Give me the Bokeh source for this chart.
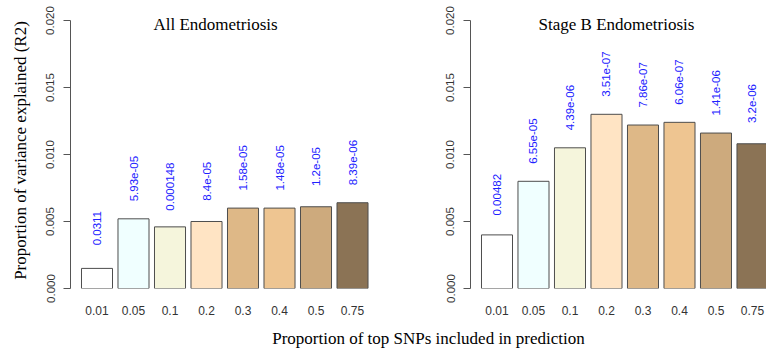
from math import pi
from bokeh.plotting import figure
from bokeh.layouts import column, row
from bokeh.models import Range1d, FixedTicker, Label, PrintfTickFormatter
from bokeh.core.properties import value
from bokeh.embed import file_html
from bokeh.resources import INLINE

categories = ["0.01", "0.05", "0.1", "0.2", "0.3", "0.4", "0.5", "0.75"]
all_r2 = [0.0015, 0.0052, 0.0046, 0.0050, 0.0060, 0.0060, 0.0061, 0.0064]
stageb_r2 = [0.0040, 0.0080, 0.0105, 0.0130, 0.0122, 0.0124, 0.0116, 0.0108]
all_p = ["0.0311", "5.93e-05", "0.000148", "8.4e-05", "1.58e-05", "1.48e-05", "1.2e-05", "8.39e-06"]
stageb_p = ["0.00482", "6.55e-05", "4.39e-06", "3.51e-07", "7.86e-07", "6.06e-07", "1.41e-06", "3.2e-06"]
bar_colors = ["#FFFFFF", "#F0FFFF", "#F5F5DC", "#FFE4C4", "#DEB887", "#EEC591", "#CDAA7D", "#8B7355"]
y_ticks = [0.0, 0.005, 0.010, 0.015, 0.020]

SERIF = "Liberation Serif"
SANS = "Liberation Sans"


def make_panel(title, r2, plabels, width, left_border, right_border, x_end, ylabel, title_x):
    xs = list(range(1, len(categories) + 1))
    p = figure(width=width, height=328, output_backend="svg", toolbar_location=None,
               x_range=Range1d(0.274, x_end), y_range=Range1d(0, 0.020597),
               min_border_left=left_border, min_border_right=right_border,
               min_border_top=12, min_border_bottom=40)
    p.outline_line_color = None
    p.grid.visible = False
    p.vbar(x=xs, top=r2, width=0.85, bottom=0, fill_color=bar_colors,
           line_color="#4d4d4d", line_width=1)
    p.text(x=xs, y=[v + 0.003 for v in r2], text=plabels, angle=pi / 2,
           text_align="center", text_baseline="middle",
           text_font=value(SANS), text_font_size="11.5px", text_color="#2020FF")
    p.add_layout(Label(x=title_x, y=0.0197, text=title, text_align="center",
                       text_baseline="middle", text_font=SERIF,
                       text_font_size="17px", text_color="black"))
    # y axis
    ya = p.yaxis[0]
    ya.bounds = (0, 0.02)
    ya.ticker = FixedTicker(ticks=y_ticks)
    ya.formatter = PrintfTickFormatter(format="%.3f")
    ya.major_label_orientation = "vertical"
    ya.major_tick_out = 7
    ya.major_tick_in = 0
    ya.minor_tick_out = 0
    ya.minor_tick_in = 0
    ya.axis_line_color = "#555555"
    ya.major_tick_line_color = "#555555"
    ya.major_label_standoff = 9
    ya.major_label_text_font = SANS
    ya.major_label_text_font_size = "11.5px"
    ya.major_label_text_color = "#333333"
    if ylabel:
        ya.axis_label = ylabel
        ya.axis_label_text_font = SERIF
        ya.axis_label_text_font_size = "17px"
        ya.axis_label_text_font_style = "normal"
        ya.axis_label_text_color = "black"
        ya.axis_label_standoff = 14
    # x axis
    xa = p.xaxis[0]
    xa.ticker = FixedTicker(ticks=xs)
    xa.major_label_overrides = {x: c for x, c in zip(xs, categories)}
    xa.axis_line_color = None
    xa.major_tick_line_color = None
    xa.minor_tick_line_color = None
    xa.major_tick_out = 0
    xa.major_tick_in = 0
    xa.major_label_standoff = 17
    xa.major_label_text_font = SANS
    xa.major_label_text_font_size = "12px"
    xa.major_label_text_color = "#333333"
    return p


p1 = make_panel("All Endometriosis", all_r2, all_p, 398, 70, 20, 8.712,
                "Proportion of variance explained (R2)", 4.247)
p2 = make_panel("Stage B Endometriosis", stageb_r2, stageb_p, 368, 72, 0, 8.384,
                None, 4.274)

p3 = figure(width=766, height=26, output_backend="svg", toolbar_location=None,
            x_range=Range1d(0, 766), y_range=Range1d(0, 26),
            x_axis_type=None, y_axis_type=None, min_border=0)
p3.outline_line_color = None
p3.grid.visible = False
p3.add_layout(Label(x=428, y=16, text="Proportion of top SNPs included in prediction",
                    text_align="center", text_baseline="middle", text_font=SERIF,
                    text_font_size="17px", text_color="black"))

layout = column(row(p1, p2), p3)
open("out.html", "w").write(file_html(layout, INLINE))
